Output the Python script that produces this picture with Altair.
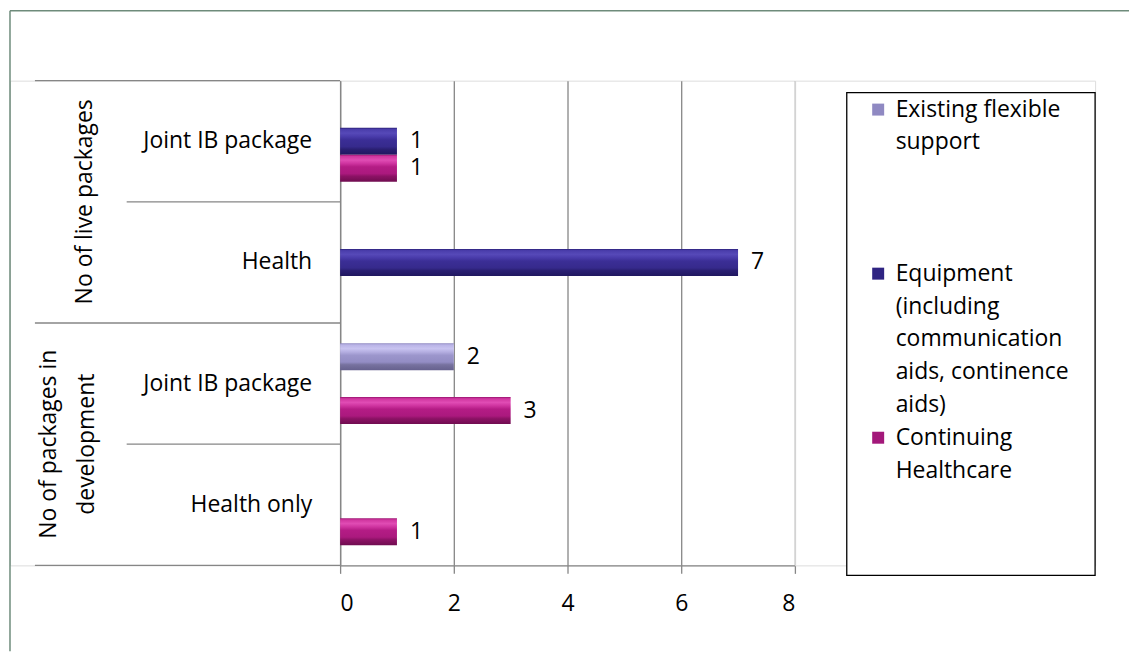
import altair as alt
import pandas as pd

# ---------------- data ----------------
row_keys = ["live_joint", "live_health", "dev_joint", "dev_health"]
row_labels = ["Joint IB package", "Health", "Joint IB package", "Health only"]
row_groups = [0, 0, 1, 1]
group_names = ["No of live packages", "No of packages in\ndevelopment"]

series = [
    "Existing flexible support",
    "Equipment (including communication aids, continence aids)",
    "Continuing Healthcare",
]
legend_labels = [
    "Existing flexible\nsupport",
    "Equipment\n(including\ncommunication\naids, continence\naids)",
    "Continuing\nHealthcare",
]
existing_vals = [None, None, 2, None]
equipment_vals = [1, 7, None, None]
continuing_vals = [1, None, 3, 1]
x_ticks = [0, 2, 4, 6, 8]

# ---------------- style ----------------
FONT = "Open Sans"
FS = 23
GRID = "#868686"
FRAME = "#6e8b7b"
W_LEFT, W_MAIN, W_LEG, H = 331, 456, 301, 486

def grad(stops):
    return alt.LinearGradient(
        gradient="linear",
        stops=[alt.GradientStop(color=c, offset=o) for o, c in stops],
        x1=0, x2=0, y1=0, y2=1,
    )

bar_grads = [
    grad([(0, "#8a84bd"), (0.06, "#b9b3e6"), (0.2, "#c8c3f0"), (0.32, "#b5afe2"),
          (0.45, "#9c96cc"), (0.7, "#938dc4"), (0.8, "#77729f"), (1, "#66618e")]),
    grad([(0, "#2b2079"), (0.06, "#4a3dab"), (0.2, "#5649b8"), (0.32, "#4a3cab"),
          (0.45, "#3b2e96"), (0.7, "#362a8c"), (0.8, "#2a1f72"), (1, "#201760")]),
    grad([(0, "#9a1470"), (0.06, "#d0359f"), (0.2, "#e04cb4"), (0.32, "#cf34a0"),
          (0.45, "#b41c85"), (0.7, "#ab197e"), (0.8, "#8c1265"), (1, "#700c50")]),
]
symbol_colors = ["#8f89c2", "#2f2482", "#a3187a"]

# ---------------- tables ----------------
recs = []
for s, vals in zip(series, [existing_vals, equipment_vals, continuing_vals]):
    for r, v in zip(row_keys, vals):
        if v is not None:
            recs.append({"row": r, "series": s, "value": v})
df_bars = pd.DataFrame(recs)

starts = [i == 0 or row_groups[i] != row_groups[i - 1] for i in range(len(row_keys))]
df_rows = pd.DataFrame({"row": row_keys, "label": row_labels, "group": row_groups,
                        "start": starts, "last": [i == len(row_keys) - 1 for i in range(len(row_keys))]})
first_rows = [row_keys[row_groups.index(g)] for g in range(len(group_names))]
df_groups = pd.DataFrame({"gname": group_names, "row": first_rows, "gi": list(range(len(group_names)))})
df_leg = pd.DataFrame({"series": series, "label": legend_labels})
df_one = pd.DataFrame({"k": [0]})

# ---------------- left label panel ----------------
y_left_scale = alt.Scale(domain=row_keys, paddingInner=0, paddingOuter=0)

sub_text = alt.Chart(df_rows).mark_text(
    align="right", baseline="middle", font=FONT, fontSize=FS, color="black"
).encode(y=alt.Y("row:N", scale=y_left_scale, axis=None), x=alt.value(303), text="label:N")

rule_group = alt.Chart(df_rows).transform_filter(alt.datum.start).mark_rule(
    color=GRID, strokeWidth=1.3
).encode(y=alt.Y("row:N", scale=y_left_scale, bandPosition=0, axis=None),
         x=alt.value(25), x2=alt.value(W_LEFT))
rule_sub = alt.Chart(df_rows).transform_filter(~alt.datum.start).mark_rule(
    color=GRID, strokeWidth=1.3
).encode(y=alt.Y("row:N", scale=y_left_scale, bandPosition=0, axis=None),
         x=alt.value(117), x2=alt.value(W_LEFT))
rule_bottom = alt.Chart(df_rows).transform_filter(alt.datum.last).mark_rule(
    color=GRID, strokeWidth=1.3
).encode(y=alt.Y("row:N", scale=y_left_scale, bandPosition=1, axis=None),
         x=alt.value(25), x2=alt.value(W_LEFT))

group_layers = []
for gi, gx in zip(range(len(group_names)), [75, 39]):
    group_layers.append(
        alt.Chart(df_groups).transform_filter(alt.datum.gi == gi).mark_text(
            angle=270, align="center", baseline="middle", font=FONT, fontSize=FS,
            color="black", lineBreak="\n", lineHeight=38
        ).encode(y=alt.Y("row:N", scale=y_left_scale, bandPosition=1, axis=None),
                 x=alt.value(gx), text="gname:N")
    )

frame_v = alt.Chart(df_one).mark_rule(color=FRAME, strokeWidth=1.5).encode(
    x=alt.value(0), y=alt.value(-70), y2=alt.value(572))
frame_h = alt.Chart(df_one).mark_rule(color=FRAME, strokeWidth=1.5).encode(
    x=alt.value(0), x2=alt.value(1122), y=alt.value(-70))

left = alt.layer(frame_v, frame_h, rule_group, rule_sub, rule_bottom, sub_text,
                 *group_layers).properties(width=W_LEFT, height=H)

# ---------------- main bar panel ----------------
y_main = alt.Y("row:N", scale=alt.Scale(domain=row_keys, paddingInner=1 / 3, paddingOuter=1 / 6),
               axis=alt.Axis(labels=False, ticks=False, title=None, domainColor=GRID,
                             domainWidth=1.3, grid=False))
yoff = alt.YOffset("series:N", scale=alt.Scale(domain=series, paddingInner=0, paddingOuter=0))
x_main = alt.X("value:Q", scale=alt.Scale(domain=[0, 8], nice=False),
               axis=alt.Axis(values=x_ticks, grid=True, gridColor=GRID, gridWidth=1.3,
                             domainColor=GRID, domainWidth=1.3, tickColor=GRID, tickWidth=1.3,
                             tickSize=8, labelFont=FONT, labelFontSize=FS, labelColor="black",
                             labelPadding=19, title=None, format="d"))

bar_layers = []
for s, g in zip(series, bar_grads):
    bar_layers.append(
        alt.Chart(df_bars).transform_filter(alt.datum.series == s).mark_bar(
            color=g, strokeWidth=0
        ).encode(x=x_main, y=y_main, yOffset=yoff)
    )

values_text = alt.Chart(df_bars).mark_text(
    align="left", baseline="middle", dx=13, font=FONT, fontSize=FS, color="black"
).encode(x=x_main, y=y_main, yOffset=yoff, text=alt.Text("value:Q", format="d"))

main = alt.layer(*bar_layers, values_text).properties(width=W_MAIN, height=H)

# ---------------- legend panel ----------------
leg_y = alt.Y("series:N", scale=alt.Scale(type="point", domain=series, range=[29, 358], padding=0),
              axis=None)
leg_box = alt.Chart(df_one).mark_rect(fill="white", stroke="black", strokeWidth=1.3).encode(
    x=alt.value(52), x2=alt.value(W_LEG), y=alt.value(12), y2=alt.value(496))
leg_sym = alt.Chart(df_leg).mark_square(size=144, opacity=1).encode(
    y=leg_y, x=alt.value(83.5),
    color=alt.Color("series:N", scale=alt.Scale(domain=series, range=symbol_colors), legend=None))
leg_text = alt.Chart(df_leg).mark_text(
    align="left", baseline="top", dy=-11, font=FONT, fontSize=FS, color="black",
    lineBreak="\n", lineHeight=33
).encode(y=leg_y, x=alt.value(101), text="label:N")

legend = alt.layer(leg_box, leg_sym, leg_text).properties(width=W_LEG, height=H)

chart = alt.hconcat(left, main, legend, spacing=0, bounds="flush").properties(
    padding=0, background="white"
).configure_view(strokeWidth=0).configure(font=FONT)

chart.save("out.html", embed_options={"renderer": "svg", "actions": False})
